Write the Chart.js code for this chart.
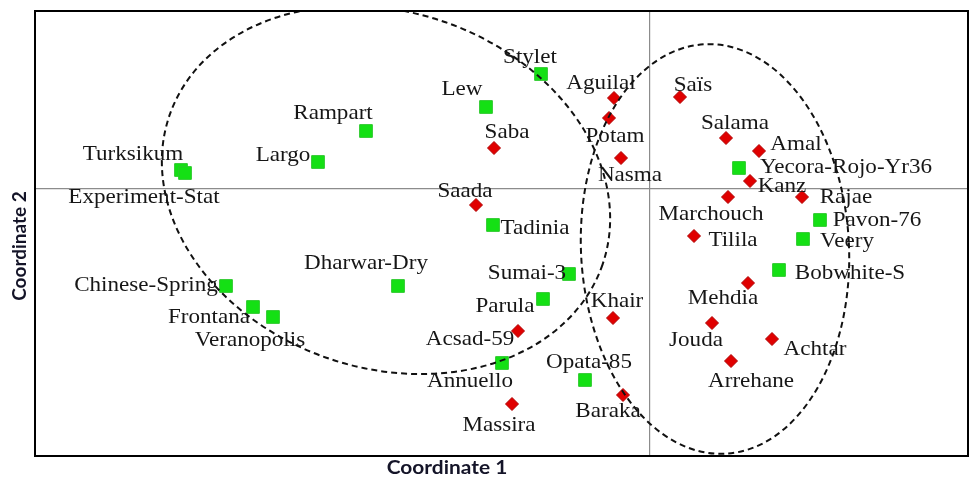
<!DOCTYPE html>
<html>
<head>
<meta charset="utf-8">
<script src="https://cdn.jsdelivr.net/npm/chart.js@4.4.0/dist/chart.umd.min.js"></script>
<style>
html,body{margin:0;padding:0;background:#fff;overflow:hidden;}
canvas{display:block;}
</style>
</head>
<body>
<canvas id="myChart" width="971" height="481"></canvas>
<script>
// group 1 (green squares)
var greenNames = ["Turksikum","Experiment-Stat","Largo","Rampart","Lew","Stylet","Tadinia","Dharwar-Dry","Sumai-3","Parula","Chinese-Spring","Frontana","Veranopolis","Annuello","Opata-85","Yecora-Rojo-Yr36","Pavon-76","Veery","Bobwhite-S"];
var greenX = [-2.345,-2.325,-1.66,-1.42,-0.82,-0.545,-0.785,-1.26,-0.405,-0.535,-2.12,-1.985,-1.885,-0.74,-0.325,0.445,0.85,0.765,0.645];
var greenY = [0.095,0.08,0.135,0.29,0.41,0.575,-0.18,-0.485,-0.425,-0.55,-0.485,-0.59,-0.64,-0.87,-0.955,0.105,-0.155,-0.25,-0.405];

// group 2 (red diamonds)
var redNames = ["Saba","Aguilal","Potam","Nasma","Saïs","Salama","Amal","Kanz","Marchouch","Rajae","Tilila","Saada","Mehdia","Khair","Acsad-59","Jouda","Achtar","Arrehane","Massira","Baraka"];
var redX = [-0.78,-0.18,-0.205,-0.145,0.15,0.38,0.545,0.5,0.39,0.76,0.22,-0.87,0.49,-0.185,-0.66,0.31,0.61,0.405,-0.69,-0.135];
var redY = [0.205,0.455,0.355,0.155,0.46,0.255,0.19,0.04,-0.04,-0.04,-0.235,-0.08,-0.47,-0.645,-0.71,-0.67,-0.75,-0.86,-1.075,-1.03];

// dashed group ellipses: centre, semi-axes (data units), tilt (deg)
var ellCx = [-1.32, 0.325];
var ellCy = [-0.005, -0.3];
var ellRx = [1.145, 0.67];
var ellRy = [0.89, 1.025];
var ellTilt = [19, -2.85];

var xTitle = "Coordinate 1";
var yTitle = "Coordinate 2";

// where each name sits relative to its marker (px, to text baseline centre)
var labelOffsets = {
  "Turksikum":[-48,-10],"Experiment-Stat":[-41,30],"Largo":[-35,-1],"Rampart":[-33,-12],
  "Lew":[-24,-12],"Stylet":[-11,-11],"Tadinia":[42,9],"Dharwar-Dry":[-32,-17],
  "Sumai-3":[-42,5],"Parula":[-38,13],"Chinese-Spring":[-80,5],"Frontana":[-44,16],
  "Veranopolis":[-23,29],"Annuello":[-32,24],"Opata-85":[4,-12],"Yecora-Rojo-Yr36":[107,5],
  "Pavon-76":[57,6],"Veery":[44,8],"Bobwhite-S":[71,9],
  "Saba":[13,-10],"Aguilal":[-13,-9],"Potam":[6,24],"Nasma":[9,23],"Saïs":[13,-6],
  "Salama":[9,-9],"Amal":[37,-1],"Kanz":[32,11],"Marchouch":[-17,23],"Rajae":[44,6],
  "Tilila":[39,10],"Saada":[-11,-8],"Mehdia":[-25,21],"Khair":[4,-11],"Acsad-59":[-48,14],
  "Jouda":[-16,23],"Achtar":[43,16],"Arrehane":[20,26],"Massira":[-13,27],"Baraka":[-15,22]
};

function toPoints(xs, ys, names) {
  var pts = [];
  for (var i = 0; i < xs.length; i++) pts.push({x: xs[i], y: ys[i], name: names[i]});
  return pts;
}

var ellipsePlugin = {
  id: 'ellipses',
  afterDatasetsDraw: function (chart) {
    var ctx = chart.ctx, xs = chart.scales.x, ys = chart.scales.y, a = chart.chartArea;
    ctx.save();
    ctx.beginPath();
    ctx.rect(a.left, a.top, a.right - a.left, a.bottom - a.top);
    ctx.clip();
    ctx.strokeStyle = '#111';
    ctx.lineWidth = 2;
    ctx.setLineDash([6, 4]);
    for (var i = 0; i < ellCx.length; i++) {
      var cx = xs.getPixelForValue(ellCx[i]);
      var cy = ys.getPixelForValue(ellCy[i]);
      var rx = Math.abs(xs.getPixelForValue(ellCx[i] + ellRx[i]) - cx);
      var ry = Math.abs(ys.getPixelForValue(ellCy[i] + ellRy[i]) - cy);
      ctx.beginPath();
      ctx.ellipse(cx, cy, rx, ry, ellTilt[i] * Math.PI / 180, 0, Math.PI * 2);
      ctx.stroke();
    }
    ctx.restore();
  }
};

var labelPlugin = {
  id: 'pointLabels',
  afterDatasetsDraw: function (chart) {
    var ctx = chart.ctx;
    ctx.save();
    ctx.font = '22px "Liberation Serif", "Times New Roman", serif';
    ctx.fillStyle = '#161616';
    ctx.textAlign = 'center';
    ctx.textBaseline = 'alphabetic';
    chart.data.datasets.forEach(function (ds, di) {
      var meta = chart.getDatasetMeta(di);
      meta.data.forEach(function (el, i) {
        var name = ds.data[i].name;
        var off = labelOffsets[name] || [0, -12];
        ctx.save();
        ctx.translate(el.x + off[0], el.y + off[1]);
        ctx.scale(1.05, 1);   // the original picture is a bit stretched sideways
        ctx.fillText(name, 0, 0);
        ctx.restore();
      });
    });
    ctx.restore();
  }
};

var framePlugin = {
  id: 'frame',
  afterDraw: function (chart) {
    var ctx = chart.ctx, a = chart.chartArea;
    ctx.save();
    ctx.strokeStyle = '#000';
    ctx.lineWidth = 2;
    ctx.strokeRect(a.left, a.top, a.right - a.left, a.bottom - a.top);
    ctx.fillStyle = '#141428';
    ctx.font = 'bold 19px Lato, "Open Sans", sans-serif';
    ctx.textAlign = 'center';
    ctx.textBaseline = 'middle';
    ctx.save();
    ctx.translate(447, 468);
    ctx.scale(1.1, 1);
    ctx.fillText(xTitle, 0, 0);
    ctx.restore();
    ctx.translate(20, 246);
    ctx.rotate(-Math.PI / 2);
    ctx.fillText(yTitle, 0, 0);
    ctx.restore();
  }
};

var onlyZero = function (scale) { scale.ticks = [{value: 0}]; };

var ctx = document.getElementById('myChart').getContext('2d');
var myChart = new Chart(ctx, {
  type: 'scatter',
  data: {
    datasets: [{
      label: 'Group 1',
      data: toPoints(greenX, greenY, greenNames),
      pointStyle: 'rect',
      pointRadius: 9,
      backgroundColor: '#14e014',
      borderColor: '#2cc92c',
      borderWidth: 1
    }, {
      label: 'Group 2',
      data: toPoints(redX, redY, redNames),
      pointStyle: 'rectRot',
      pointRadius: 6.5,
      backgroundColor: '#e00000',
      borderColor: '#b00000',
      borderWidth: 1
    }]
  },
  options: {
    responsive: false,
    devicePixelRatio: 1,
    animation: false,
    events: [],
    layout: {autoPadding: false, padding: {left: 0, right: 3, top: 11, bottom: 0}},
    plugins: {legend: {display: false}, tooltip: {enabled: false}},
    scales: {
      x: {
        type: 'linear', min: -3.075, max: 1.59,
        afterBuildTicks: onlyZero,
        afterFit: function (s) { s.height = 25; s.paddingLeft = 0; s.paddingRight = 0; },
        ticks: {display: false},
        grid: {color: '#8c8c8c', lineWidth: 1.2, drawTicks: false},
        border: {display: false}
      },
      y: {
        type: 'linear', min: -1.335, max: 0.89,
        afterBuildTicks: onlyZero,
        afterFit: function (s) { s.width = 35; s.paddingTop = 0; s.paddingBottom = 0; },
        ticks: {display: false},
        grid: {color: '#8c8c8c', lineWidth: 1.2, drawTicks: false},
        border: {display: false}
      }
    }
  },
  plugins: [ellipsePlugin, labelPlugin, framePlugin]
});
</script>
</body>
</html>
